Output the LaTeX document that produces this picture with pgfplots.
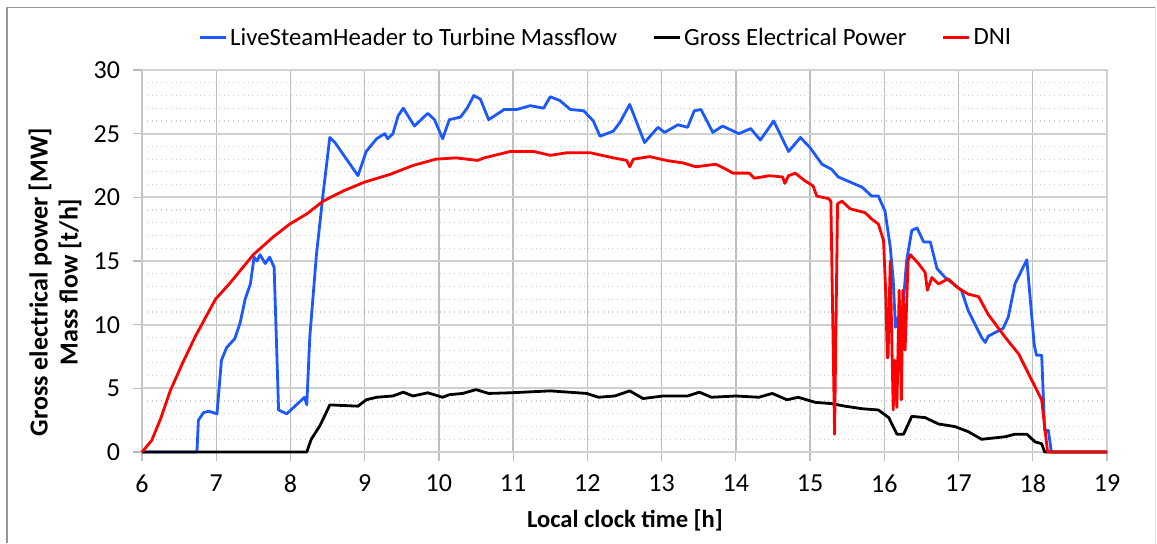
\documentclass[border=0pt]{standalone}
\usepackage{fontspec}
\setmainfont{Carlito}
\usepackage{pgfplots}
\pgfplotsset{compat=1.18}
\definecolor{steamblue}{RGB}{28,88,255}
\definecolor{dnired}{RGB}{255,0,0}
\definecolor{gridmaj}{RGB}{208,208,208}
\definecolor{gridvert}{RGB}{190,190,190}
\definecolor{gridmin}{RGB}{205,205,205}
\definecolor{framegray}{RGB}{150,150,150}

\begin{document}
\begin{tikzpicture}[x=1pt,y=1pt]
\useasboundingbox (0,0) rectangle (578.5,271.5);
% outer chart frame
\draw[framegray, line width=0.8pt] (3.5,0) -- (3.5,267.8) -- (577.5,267.8);
\draw[gray!25, line width=0.5pt] (577.5,267.8) -- (577.5,0);
\begin{axis}[
  at={(71pt,45.5pt)}, anchor=south west,
  scale only axis,
  width=482.5pt, height=191pt,
  xmin=6, xmax=19, ymin=0, ymax=30,
  xtick={6,7,...,19}, ytick={0,5,...,30},
  minor y tick num=4,
  xmajorgrids, ymajorgrids, yminorgrids,
  major x grid style={gridvert, line width=0.7pt},
  major y grid style={gridmaj, line width=1pt},
  minor y grid style={gridmin, dotted, line width=0.6pt},
  axis line style={gray!45, line width=0.6pt},
  tick align=outside,
  major tick length=4.5pt, minor tick length=0pt,
  tick style={gray!55, line width=0.6pt},
  x tick style={gray!50},
  axis x line*=bottom, axis y line*=left,
  separate axis lines,
  every outer x axis line/.append style={gridmaj, line width=1.2pt},
  tick label style={font=\fontsize{13}{15}\selectfont, /pgf/number format/assume math mode=true},
  xticklabel style={yshift=-3.5pt},
  yticklabel style={xshift=-3pt},
  xlabel={Local clock time [h]},
  xlabel style={font=\fontsize{12.3}{14}\selectfont\bfseries, at={(axis description cs:0.5005,-0.178)}, anchor=center},
  ylabel={Gross electrical power [MW]\\Mass flow [t/h]},
  ylabel style={font=\fontsize{13}{15}\selectfont\bfseries, align=center, at={(axis description cs:-0.090,0.445)}, anchor=center, rotate=0},
  legend columns=3,
  legend style={draw=none, fill=none, font=\fontsize{12.4}{14}\selectfont,
    at={(axis description cs:0.481,1.084)}, anchor=center,
    nodes={inner sep=1.5pt},
    /tikz/every even column/.append style={column sep=16pt}},
  legend image code/.code={\draw[#1, line width=1.5pt] (0pt,0pt) -- (13pt,0pt);},
  clip=false,
]
\draw[gray!35, line width=0.6pt] (rel axis cs:0,1) -- (rel axis cs:1,1) -- (rel axis cs:1,0);

\addplot[steamblue, line width=1.4pt, line join=round] coordinates {
(6,0) (6.74,0) (6.76,2.5) (6.83,3.1) (6.9,3.2) (7.01,3.0) (7.07,7.2) (7.14,8.2) (7.25,8.9) (7.32,10.1)
(7.39,12.0) (7.46,13.2) (7.51,15.3) (7.55,15.0) (7.59,15.5) (7.66,14.8) (7.72,15.3) (7.78,14.5)
(7.84,3.3) (7.95,3.0) (8.19,4.3) (8.22,3.7) (8.26,9.0) (8.35,15.5) (8.44,20.3) (8.53,24.7)
(8.60,24.3) (8.91,21.7) (9.02,23.6) (9.16,24.6) (9.27,25.0) (9.31,24.6) (9.38,25.0) (9.45,26.4)
(9.52,27.0) (9.67,25.6) (9.85,26.6) (9.94,26.1) (10.05,24.6) (10.14,26.1) (10.29,26.3) (10.38,27.0)
(10.47,28.0) (10.56,27.7) (10.67,26.1) (10.88,26.9) (11.05,26.9) (11.23,27.2) (11.41,27.0) (11.5,27.9)
(11.63,27.6) (11.77,26.9) (11.95,26.8) (12.08,26.0) (12.17,24.8) (12.35,25.2) (12.44,25.9)
(12.57,27.3) (12.77,24.3) (12.95,25.5) (13.04,25.1) (13.22,25.7) (13.35,25.5) (13.44,26.8)
(13.53,26.9) (13.69,25.1) (13.82,25.6) (14.04,25.0) (14.2,25.4) (14.33,24.5) (14.51,26.0)
(14.71,23.6) (14.87,24.7) (15.0,23.9) (15.16,22.6) (15.29,22.2) (15.38,21.6) (15.54,21.2)
(15.70,20.8) (15.83,20.1) (15.92,20.1) (16.01,18.9) (16.08,16.1) (16.12,13.5) (16.15,9.8)
(16.19,10.6) (16.24,10.6) (16.30,15.0) (16.37,17.4) (16.44,17.6) (16.53,16.5) (16.62,16.5)
(16.71,14.4) (16.82,13.7) (17.04,12.7) (17.13,11.1) (17.31,9.0) (17.36,8.6) (17.40,9.1)
(17.60,9.7) (17.67,10.6) (17.76,13.2) (17.92,15.1) (18.02,8.4) (18.05,7.6) (18.12,7.6)
(18.16,1.7) (18.21,1.7) (18.25,0) (19,0)
};
\addlegendentry{LiveSteamHeader to Turbine Massflow}

\addplot[black, line width=1.4pt, line join=round] coordinates {
(6,0) (8.22,0) (8.28,1.0) (8.40,2.1) (8.53,3.7) (8.91,3.6) (9.02,4.1) (9.16,4.3) (9.38,4.4)
(9.52,4.7) (9.65,4.4) (9.85,4.65) (10.05,4.3) (10.14,4.5) (10.32,4.6) (10.5,4.9) (10.67,4.6)
(10.96,4.65) (11.5,4.8) (11.99,4.6) (12.15,4.3) (12.37,4.4) (12.57,4.8) (12.75,4.2) (13.02,4.4)
(13.35,4.4) (13.51,4.7) (13.67,4.3) (14.0,4.4) (14.31,4.3) (14.49,4.6) (14.69,4.1) (14.84,4.3)
(15.07,3.9) (15.29,3.8) (15.47,3.6) (15.70,3.4) (15.92,3.3) (16.06,2.7) (16.17,1.4) (16.26,1.4)
(16.37,2.8) (16.55,2.7) (16.73,2.2) (16.95,2.0) (17.13,1.6) (17.31,1.0) (17.63,1.2) (17.76,1.4)
(17.92,1.4) (18.03,0.8) (18.12,0.65) (18.16,0) (19,0)
};
\addlegendentry{Gross Electrical Power}

\addplot[dnired, line width=1.4pt, line join=round] coordinates {
(6,0) (6.13,0.9) (6.25,2.6) (6.38,4.8) (6.54,6.9) (6.72,9.1) (6.99,12.0) (7.19,13.3) (7.5,15.5)
(7.77,16.9) (7.99,17.9) (8.22,18.7) (8.44,19.7) (8.71,20.5) (9.0,21.2) (9.34,21.8) (9.65,22.5)
(9.96,23.0) (10.23,23.1) (10.52,22.9) (10.61,23.1) (10.96,23.6) (11.28,23.6) (11.5,23.3)
(11.72,23.5) (12.04,23.5) (12.35,23.1) (12.53,22.9) (12.57,22.4) (12.62,23.0) (12.84,23.2)
(13.06,22.9) (13.29,22.7) (13.46,22.4) (13.73,22.6) (13.87,22.2) (13.96,21.9) (14.18,21.9)
(14.25,21.5) (14.45,21.7) (14.63,21.6) (14.66,21.1) (14.71,21.7) (14.80,21.9) (14.93,21.3)
(15.04,20.9) (15.09,20.1) (15.25,19.9) (15.28,19.7) (15.33,1.4) (15.37,19.5) (15.43,19.7)
(15.54,19.1) (15.74,18.8) (15.83,18.3) (15.92,17.9) (15.99,16.6) (16.02,12.4) (16.04,7.4)
(16.05,7.4) (16.08,15.0) (16.12,3.3) (16.14,7.2) (16.17,3.5) (16.2,12.7) (16.23,4.1) (16.25,12.7)
(16.28,8.0) (16.32,15.0) (16.35,15.5) (16.46,14.8) (16.55,14.1) (16.58,12.7) (16.64,13.7)
(16.73,13.2) (16.86,13.6) (16.99,12.9) (17.13,12.4) (17.27,12.2) (17.40,10.8) (17.63,9.0)
(17.81,7.7) (17.99,5.6) (18.12,4.1) (18.16,2.0) (18.2,0) (19,0)
};
\addlegendentry{DNI}
\end{axis}
\end{tikzpicture}
\end{document}
